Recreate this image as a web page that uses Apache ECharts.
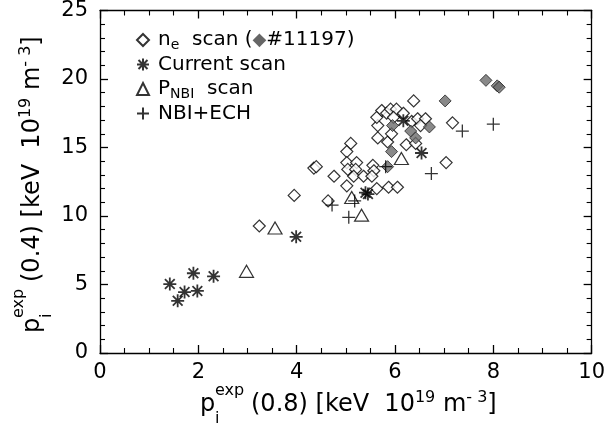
<!DOCTYPE html>
<html>
<head>
<meta charset="utf-8">
<script src="https://cdn.jsdelivr.net/npm/echarts@6/dist/echarts.min.js"></script>
<style>html,body{margin:0;padding:0;background:#fff;}#c{width:608px;height:436px;}</style>
</head>
<body>
<div id="c"></div>
<script>
// ---- data ----
var neX = [3.24,3.95,4.35,4.40,4.76,4.64,5.02,5.10,5.02,5.02,5.22,5.04,5.20,5.16,5.36,5.55,5.57,5.53,5.63,5.87,6.05,5.65,5.85,5.93,5.65,5.63,5.73,5.83,5.91,6.03,5.97,6.17,6.38,6.23,6.42,6.34,6.46,6.62,6.52,7.17,7.04];
var neY = [9.27,11.5,13.5,13.6,12.9,11.1,12.2,15.3,14.7,13.9,13.9,13.4,13.4,12.9,12.9,13.7,13.3,12.9,12.0,12.1,12.1,15.7,15.4,16.0,16.6,17.2,17.7,17.5,17.8,17.8,17.2,17.5,18.4,15.2,15.3,16.9,17.1,17.1,16.6,16.8,13.9];
var shotX = [7.85,8.08,8.12,7.02,5.95,6.32,6.70,6.42,5.93,5.85];
var shotY = [19.9,19.5,19.4,18.4,16.6,16.2,16.5,15.7,14.7,13.6];
var curX = [1.42,1.90,1.72,1.58,1.98,2.31,3.99,5.40,5.45,6.17,6.54];
var curY = [5.03,5.82,4.45,3.81,4.53,5.60,8.48,11.7,11.6,16.95,14.6];
var pnbiX = [2.98,3.56,5.12,5.32,6.13];
var pnbiY = [5.96,9.12,11.35,10.06,14.2];
var echX = [4.72,5.18,5.06,5.81,6.74,7.37,8.0];
var echY = [10.8,11.1,9.9,13.6,13.1,16.2,16.7];
var xTicks = [0,2,4,6,8,10];
var yTicks = [0,5,10,15,20,25];
var seriesNames = ['ne scan','Current scan','PNBI scan','NBI+ECH'];

function pairs(xs, ys){ return xs.map(function(x,i){ return [x, ys[i]]; }); }

var FF = '"DejaVu Sans", Verdana, sans-serif';
var STAR = 'path://M0,-10L0,10M-10,0L10,0M-7.5,-7.5L7.5,7.5M-7.5,7.5L7.5,-7.5';
var PLUS = 'path://M0,-10L0,10M-10,0L10,0';

function axisX(pos, showLabel){
  return {
    type:'value', position: pos, min:0, max:10, interval:2,
    axisLine:{show:true, onZero:false, lineStyle:{color:'#000', width:1.3}},
    axisTick:{show:true, inside:true, length:8, lineStyle:{color:'#000', width:1.3}},
    minorTick:{show:true, splitNumber:4, length:5, lineStyle:{color:'#000', width:1.1}},
    splitLine:{show:false},
    axisLabel:{show:showLabel, color:'#000', fontSize:21, fontFamily:FF, margin:9,
      formatter:function(v){ return xTicks.indexOf(v) >= 0 ? String(v) : ''; }}
  };
}
function axisY(pos, showLabel){
  return {
    type:'value', position: pos, min:0, max:25, interval:5,
    axisLine:{show:true, onZero:false, lineStyle:{color:'#000', width:1.3}},
    axisTick:{show:true, inside:true, length:8, lineStyle:{color:'#000', width:1.3}},
    minorTick:{show:true, splitNumber:5, length:5, lineStyle:{color:'#000', width:1.1}},
    splitLine:{show:false},
    axisLabel:{show:showLabel, color:'#000', fontSize:21, fontFamily:FF, margin:12,
      formatter:function(v){ return yTicks.indexOf(v) >= 0 ? String(v) : ''; }}
  };
}

var chart = echarts.init(document.getElementById('c'), null, {renderer:'canvas'});
var titleRich = {
  m:{fontSize:24, fontFamily:FF, color:'#000', lineHeight:31},
  s:{fontSize:16, fontFamily:FF, color:'#000', lineHeight:12, verticalAlign:'top'}
};
function titleGroup(x, y, rot, mid){
  return {
    type:'group', x:x, y:y, rotation:rot, silent:true,
    children:[
      {type:'text', x:0, y:0, style:{text:'p', font:'24px '+FF, fill:'#000', verticalAlign:'middle', align:'left'}},
      {type:'text', x:15, y:-14, style:{text:'exp', font:'16px '+FF, fill:'#000', verticalAlign:'middle', align:'left'}},
      {type:'text', x:15, y:14, style:{text:'i', font:'16px '+FF, fill:'#000', verticalAlign:'middle', align:'left'}},
      {type:'text', x:51, y:0, style:{text:'{m|' + mid + '}{s|19}{m| m}{s|- 3}{m|]}', rich:titleRich, verticalAlign:'middle', align:'left'}}
    ]
  };
}

var legendRich = {
  t:{fontSize:20, fontFamily:FF, color:'#000', lineHeight:24, padding:[0,0,0,4]},
  u:{fontSize:20, fontFamily:FF, color:'#000', lineHeight:24},
  sub:{fontSize:14, fontFamily:FF, color:'#000', lineHeight:12, verticalAlign:'bottom'},
  fd:{fontSize:18, fontFamily:FF, color:'#666', lineHeight:24}
};

chart.setOption({
  animation:false,
  backgroundColor:'#fff',
  grid:{left:100, right:14, top:5, bottom:83, containLabel:false},
  xAxis:[axisX('bottom', true), axisX('top', false)],
  yAxis:[axisY('left', true), axisY('right', false)],
  legend:{
    orient:'vertical', left:131, top:23, itemWidth:12, itemHeight:12, itemGap:0.5,
    selectedMode:false,
    data:seriesNames,
    formatter:function(name){
      if(name === 'ne scan') return '{t|n}{sub|e}{u|  scan (}{fd|◆}{u|#11197)}';
      if(name === 'PNBI scan') return '{t|P}{sub|NBI}{u|  scan}';
      return '{t|' + name + '}';
    },
    textStyle:{fontSize:20, lineHeight:24, rich:legendRich}
  },
  graphic:[
    titleGroup(200, 405, 0, '(0.8) [keV  10'),
    titleGroup(33, 333, Math.PI/2, '(0.4) [keV  10')
  ],
  series:[
    {name:'ne scan', type:'scatter', symbol:'diamond', symbolSize:[12,12], data:pairs(neX,neY),
     itemStyle:{color:'#fff', borderColor:'#000', borderWidth:1.2}, emphasis:{disabled:true}, z:2},
    {name:'#11197', type:'scatter', symbol:'diamond', symbolSize:[12,12], data:pairs(shotX,shotY),
     itemStyle:{color:'#6b6b6b', borderColor:'#222', borderWidth:1}, emphasis:{disabled:true}, z:3},
    {name:'Current scan', type:'scatter', symbol:STAR, symbolSize:[13,13], data:pairs(curX,curY),
     itemStyle:{color:'rgba(0,0,0,0)', borderColor:'#000', borderWidth:1.8}, emphasis:{disabled:true}, z:4},
    {name:'PNBI scan', type:'scatter', symbol:'triangle', symbolSize:[14,12], data:pairs(pnbiX,pnbiY),
     itemStyle:{color:'#fff', borderColor:'#000', borderWidth:1.2}, emphasis:{disabled:true}, z:4},
    {name:'NBI+ECH', type:'scatter', symbol:PLUS, symbolSize:[13,13], data:pairs(echX,echY),
     itemStyle:{color:'rgba(0,0,0,0)', borderColor:'#000', borderWidth:1.3}, emphasis:{disabled:true}, z:5}
  ]
});
</script>
</body>
</html>
